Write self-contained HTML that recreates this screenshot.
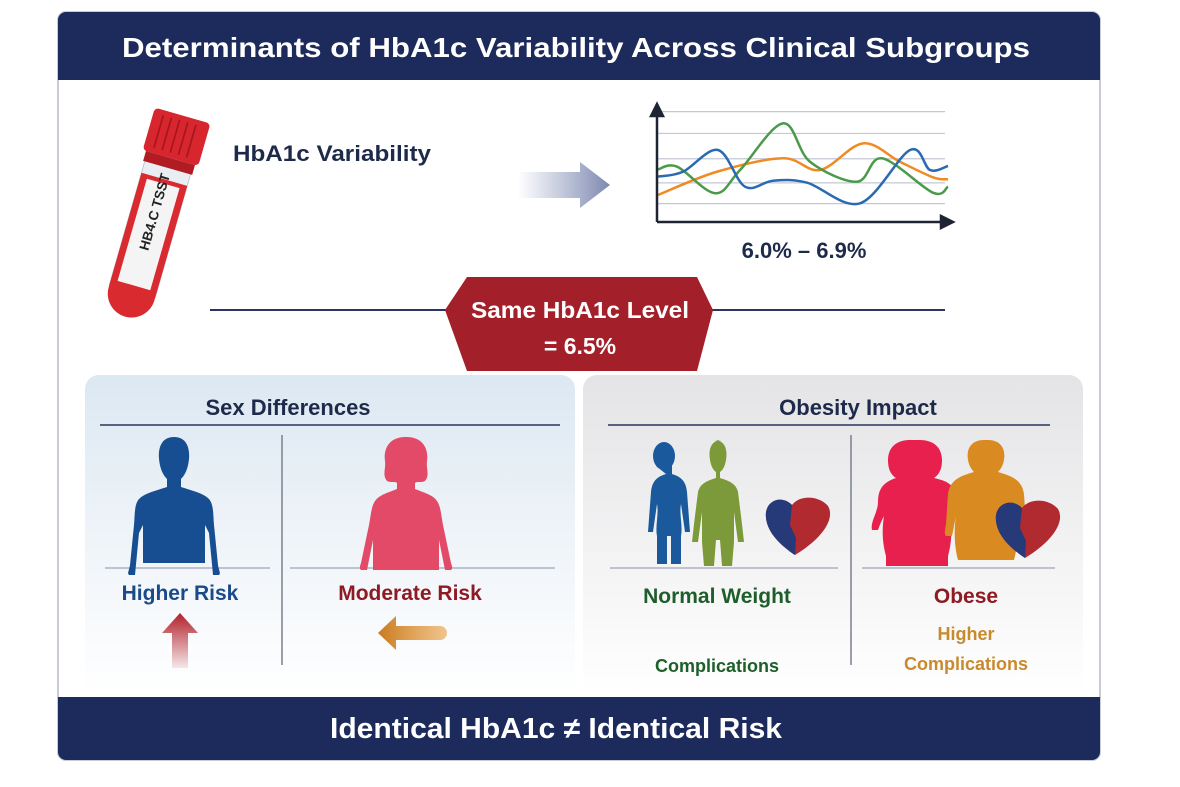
<!DOCTYPE html>
<html><head><meta charset="utf-8"><style>
html,body{margin:0;padding:0;background:#fff;}
svg{display:block;font-family:"Liberation Sans",sans-serif;}
</style></head><body>
<svg id="root" width="1180" height="787" viewBox="0 0 1180 787">
<defs>
<linearGradient id="gl" x1="0" y1="0" x2="0" y2="1"><stop offset="0" stop-color="#dce8f2"/><stop offset="0.6" stop-color="#f2f6fa"/><stop offset="1" stop-color="#ffffff"/></linearGradient>
<linearGradient id="gr" x1="0" y1="0" x2="0" y2="1"><stop offset="0" stop-color="#e4e4e6"/><stop offset="0.6" stop-color="#f4f4f5"/><stop offset="1" stop-color="#ffffff"/></linearGradient>
<linearGradient id="ga" x1="0" y1="0" x2="1" y2="0"><stop offset="0" stop-color="#8894b8" stop-opacity="0"/><stop offset="1" stop-color="#7c88b0"/></linearGradient>
<linearGradient id="gline" x1="0" y1="0" x2="1" y2="0"><stop offset="0" stop-color="#2a3560" stop-opacity="0.9"/><stop offset="1" stop-color="#2a3560" stop-opacity="0"/></linearGradient>
<linearGradient id="gup" x1="0" y1="0" x2="0" y2="1"><stop offset="0" stop-color="#b3202a"/><stop offset="1" stop-color="#b3202a" stop-opacity="0.1"/></linearGradient>
<linearGradient id="gleft" x1="0" y1="0" x2="1" y2="0"><stop offset="0" stop-color="#c97a1e"/><stop offset="1" stop-color="#e8a040" stop-opacity="0.6"/></linearGradient>
</defs>

<rect x="58" y="12" width="1042" height="748" rx="8" fill="#fff" stroke="#c8cad4" stroke-width="2"/>
<path d="M66 12 H1092 a8 8 0 0 1 8 8 V80 H58 V20 a8 8 0 0 1 8 -8 Z" fill="#1c2a5c"/>
<text x="122" y="57" font-size="28" font-weight="bold" fill="#fff" textLength="908" lengthAdjust="spacingAndGlyphs">Determinants of HbA1c Variability Across Clinical Subgroups</text>

<!-- test tube -->
<g transform="translate(155,212) rotate(16) scale(0.85)">
<rect x="-28" y="-70" width="56" height="170" rx="4" fill="#e8eef2" stroke="#b9c2cc"/>
<path d="M-28 -40 H28 V100 a28 28 0 0 1 -56 0 Z" fill="#d92a30"/>
<rect x="-20" y="-35" width="40" height="125" fill="#f4f4f4"/>
<text x="0" y="0" transform="rotate(-90 0 0)" font-size="16" font-weight="bold" fill="#222" text-anchor="middle" dy="5">HB4.C TSST</text>
<rect x="-34" y="-118" width="68" height="52" rx="5" fill="#d8262e"/>
<rect x="-30" y="-66" width="60" height="12" fill="#b01c22"/>
<g stroke="#a8161c" stroke-width="2"><line x1="-22" y1="-112" x2="-22" y2="-72"/><line x1="-12" y1="-112" x2="-12" y2="-72"/><line x1="-2" y1="-112" x2="-2" y2="-72"/><line x1="8" y1="-112" x2="8" y2="-72"/><line x1="18" y1="-112" x2="18" y2="-72"/></g>
</g>

<line x1="190" y1="127" x2="500" y2="127" stroke="url(#gline)" stroke-width="2"/>
<line x1="190" y1="180" x2="500" y2="180" stroke="url(#gline)" stroke-width="2"/>
<text x="233" y="161" font-size="22" font-weight="bold" fill="#1e2a4a" textLength="198" lengthAdjust="spacingAndGlyphs">HbA1c Variability</text>
<path d="M518 172 H580 V162 L610 185 L580 208 V198 H518 Z" fill="url(#ga)"/>

<g id="mini"></g>
<text x="804" y="258" font-size="22" font-weight="bold" fill="#1e2a4a" text-anchor="middle">6.0% – 6.9%</text>

<line x1="210" y1="310" x2="945" y2="310" stroke="#2a3560" stroke-width="2"/>
<polygon points="445,310 467,277 697,277 713,310 697,371 467,371" fill="#a3202a"/>
<text x="580" y="318" font-size="23" font-weight="bold" fill="#fff" text-anchor="middle" textLength="218" lengthAdjust="spacingAndGlyphs">Same HbA1c Level</text>
<text x="580" y="354" font-size="23" font-weight="bold" fill="#fff" text-anchor="middle">= 6.5%</text>

<!-- left panel -->
<rect x="85" y="375" width="490" height="320" rx="14" fill="url(#gl)"/>
<text x="288" y="415" font-size="22" font-weight="bold" fill="#1e2a4a" text-anchor="middle">Sex Differences</text>
<line x1="100" y1="425" x2="560" y2="425" stroke="#2a3560" stroke-width="1.5"/>
<line x1="282" y1="435" x2="282" y2="665" stroke="#7a8090" stroke-width="1.5"/>
<line x1="105" y1="568" x2="270" y2="568" stroke="#8890a8"/>
<line x1="290" y1="568" x2="555" y2="568" stroke="#8890a8"/>
<path fill="#174e91" d="M174 437 c-12 0 -16 10 -15 22 c1 10 4 16 8 20 v8 c-12 4 -22 6 -28 12 c-5 6 -4 16 -5 26 l-4 40 c-1 6 -3 8 -1 10 h6 l4 -42 l4 -8 v38 h62 v-38 l4 8 l4 42 h6 c2 -2 0 -4 -1 -10 l-4 -40 c-1 -10 0 -20 -5 -26 c-6 -6 -16 -8 -28 -12 v-8 c4 -4 7 -10 8 -20 c1 -12 -3 -22 -15 -22 Z"/>
<path fill="#e24a68" d="M405 437 c-14 0 -22 10 -20 24 c1 8 -3 14 2 20 c4 2 8 0 10 2 v6 c-10 4 -18 6 -22 12 c-4 6 -4 14 -6 24 l-8 38 c-1 3 -2 6 0 7 h6 l6 -30 v30 h66 v-30 l6 30 h6 c2 -1 1 -4 0 -7 l-8 -38 c-2 -10 -2 -18 -6 -24 c-4 -6 -12 -8 -22 -12 v-6 c2 -2 6 0 10 -2 c5 -6 1 -12 2 -20 c2 -14 -6 -24 -20 -24 Z"/>
<text x="180" y="600" font-size="21" font-weight="bold" fill="#1a4a8a" text-anchor="middle">Higher Risk</text>
<text x="410" y="600" font-size="21" font-weight="bold" fill="#8e1a24" text-anchor="middle">Moderate Risk</text>
<path d="M180 613 L198 633 H188 V668 H172 V633 H162 Z" fill="url(#gup)"/>
<path d="M378 633 L396 616 V626 H440 a7 7 0 0 1 0 14 H396 V650 Z" fill="url(#gleft)"/>

<!-- right panel -->
<rect x="583" y="375" width="500" height="320" rx="14" fill="url(#gr)"/>
<text x="858" y="415" font-size="22" font-weight="bold" fill="#1e2a4a" text-anchor="middle">Obesity Impact</text>
<line x1="608" y1="425" x2="1050" y2="425" stroke="#2a3560" stroke-width="1.5"/>
<line x1="851" y1="435" x2="851" y2="665" stroke="#7a8090" stroke-width="1.5"/>
<line x1="610" y1="568" x2="838" y2="568" stroke="#8890a8"/>
<line x1="862" y1="568" x2="1055" y2="568" stroke="#8890a8"/>
<g fill="#1a5a9c">
<ellipse cx="664" cy="456" rx="11" ry="14"/>
<path d="M656 466 h16 v8 c10 3 14 8 15 18 l3 40 h-5 l-4 -28 c-2 10 2 22 0 32 v28 h-10 v-28 h-4 v28 h-10 v-28 c-2 -10 2 -22 0 -32 l-4 28 h-5 l3 -40 c1 -10 5 -15 15 -18 Z"/>
</g>
<path fill="#7c9a3a" d="M722 440 c-10 0 -14 8 -12 20 c1 6 3 10 6 12 v6 c-10 3 -16 6 -18 14 l-4 32 l-2 18 h6 l4 -30 v30 l2 24 h10 l2 -26 h4 l2 26 h10 l2 -24 v-30 l4 30 h6 l-2 -18 l-4 -32 c-2 -8 -8 -11 -18 -14 v-6 c3 -2 5 -6 6 -12 c2 -12 -2 -20 -12 -20 Z"/>
<g><path d="M795 555 C780 545 764 530 766 512 C768 500 782 495 792 505 C800 494 820 496 828 506 C836 520 820 540 795 555 Z" fill="#b02a30"/><path d="M795 555 C780 545 764 530 766 512 C768 500 782 495 792 505 L790 525 L796 538 Z" fill="#263a7a"/></g>
<path fill="#e8204e" d="M910 440 c-14 0 -22 8 -22 20 c0 8 2 14 8 18 c-12 4 -18 10 -18 24 c0 10 -8 20 -6 28 h6 c2 -6 4 -10 6 -14 c-2 12 -2 26 2 40 v10 h62 v-10 c4 -14 4 -28 2 -40 l6 -20 c-2 -14 -14 -16 -22 -18 c6 -4 8 -10 8 -18 c0 -12 -8 -20 -22 -20 Z"/>
<path fill="#d98a20" d="M984 440 c-12 0 -18 8 -16 20 c1 6 4 10 6 12 c-14 4 -24 8 -26 22 l-2 30 c-1 6 -2 10 0 12 h6 l4 -20 c-2 12 -2 30 2 44 h56 c4 -14 4 -32 2 -44 l4 20 h6 c2 -2 1 -6 0 -12 l-2 -30 c-2 -14 -12 -18 -26 -22 c2 -2 5 -6 6 -12 c2 -12 -4 -20 -16 -20 Z"/>
<g><path d="M1025 558 C1010 548 994 533 996 515 C998 503 1012 498 1022 508 C1030 497 1050 499 1058 509 C1066 523 1050 543 1025 558 Z" fill="#b02a30"/><path d="M1025 558 C1010 548 994 533 996 515 C998 503 1012 498 1022 508 L1020 528 L1026 541 Z" fill="#263a7a"/></g>
<text x="717" y="603" font-size="21" font-weight="bold" fill="#1d5e2a" text-anchor="middle">Normal Weight</text>
<text x="717" y="672" font-size="18" font-weight="bold" fill="#1d5e2a" text-anchor="middle">Complications</text>
<text x="966" y="603" font-size="21" font-weight="bold" fill="#8e1a24" text-anchor="middle">Obese</text>
<text x="966" y="640" font-size="18" font-weight="bold" fill="#c98a2e" text-anchor="middle">Higher</text>
<text x="966" y="670" font-size="18" font-weight="bold" fill="#c98a2e" text-anchor="middle">Complications</text>

<path d="M58 697 H1100 V752 a8 8 0 0 1 -8 8 H66 a8 8 0 0 1 -8 -8 Z" fill="#1c2a5c"/>
<text x="556" y="738" font-size="29" font-weight="bold" fill="#fff" text-anchor="middle" textLength="452" lengthAdjust="spacingAndGlyphs">Identical HbA1c ≠ Identical Risk</text>
</svg>
<script>
const blueT = [0, 8.6, 20.7, 30, 39.7, 51.4, 69.7, 86.9, 93.8, 100];
const blueV = [3.94, 4.37, 6.26, 3.07, 3.59, 3.42, 1.63, 6.26, 4.52, 4.87];
const greenT = [0, 6.6, 19.7, 28.3, 43.1, 52.4, 68.6, 77.2, 94.8, 100];
const greenV = [4.58, 4.81, 2.50, 4.52, 8.58, 5.24, 3.50, 5.54, 2.55, 3.07];
const orangeT = [0, 20.3, 43.1, 55.9, 70.7, 83.4, 94.8, 100];
const orangeV = [2.35, 4.37, 5.54, 4.52, 6.84, 5.24, 3.89, 3.71];
const gridV = [1.6, 3.4, 5.5, 7.7, 9.6];

const NS = 'http://www.w3.org/2000/svg';
const g = document.getElementById('mini');
const xs = t => 658 + t * 2.9;
const ys = v => 222 - v * 11.5;
function mk(tag, attrs) { const e = document.createElementNS(NS, tag); for (const k in attrs) e.setAttribute(k, attrs[k]); g.appendChild(e); return e; }
gridV.forEach(v => {
  const l = mk('line', {x1: 658, x2: 945, y1: ys(v), y2: ys(v), stroke: '#c4c8d6', 'stroke-width': 1.2});
  
  
});
function path(T, V) {
  const p = T.map((t, i) => [xs(t), ys(V[i])]);
  let d = 'M' + p[0][0] + ' ' + p[0][1];
  for (let i = 0; i < p.length - 1; i++) {
    const p0 = p[i - 1] || p[i], p1 = p[i], p2 = p[i + 1], p3 = p[i + 2] || p2;
    const c1 = [p1[0] + (p2[0] - p0[0]) / 6, p1[1] + (p2[1] - p0[1]) / 6];
    const c2 = [p2[0] - (p3[0] - p1[0]) / 6, p2[1] - (p3[1] - p1[1]) / 6];
    d += ' C' + c1 + ' ' + c2 + ' ' + p2;
  }
  return d;
}
const s1 = mk('path', {d: path(orangeT, orangeV), fill: 'none', stroke: '#f08a24', 'stroke-width': 2.5});


const s2 = mk('path', {d: path(greenT, greenV), fill: 'none', stroke: '#4a9a4a', 'stroke-width': 2.5});


const s3 = mk('path', {d: path(blueT, blueV), fill: 'none', stroke: '#2a6ab0', 'stroke-width': 2.5});


const ya = mk('path', {d: 'M657 222 V110 M651 116 L657 104 L663 116 Z', stroke: '#1e2433', 'stroke-width': 2.5, fill: '#1e2433'});


const xa = mk('path', {d: 'M657 222 H945 M941 216 L953 222 L941 228 Z', stroke: '#1e2433', 'stroke-width': 2.5, fill: '#1e2433'});


</script>
</body></html>
